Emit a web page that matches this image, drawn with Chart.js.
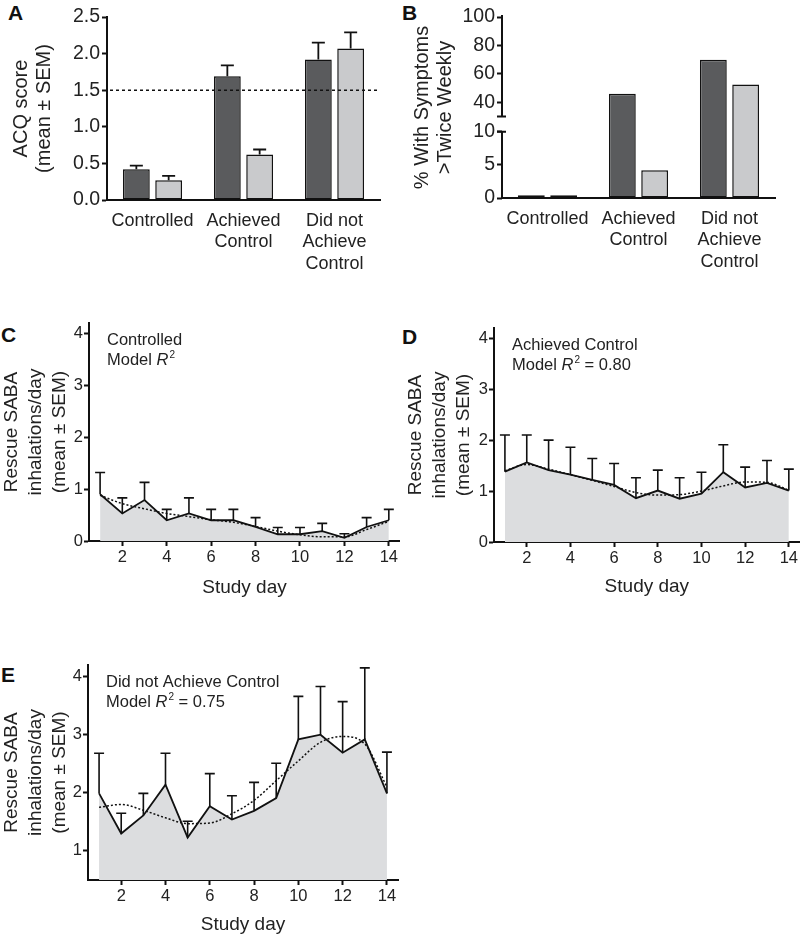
<!DOCTYPE html>
<html>
<head>
<meta charset="utf-8">
<script src="https://cdn.jsdelivr.net/npm/chart.js@4"></script>
<style>
  body { margin: 0; background: #fff; width: 800px; height: 936px; position: relative; overflow: hidden; font-family: "Liberation Sans", Arial, sans-serif; }
  .panel { position: absolute; }
  .letter { position: absolute; font-weight: bold; font-size: 21px; line-height: 1; color: #111; }
</style>
</head>
<body>
<div class="letter" style="left:8px;top:2px">A</div>
<div class="letter" style="left:402px;top:2px">B</div>
<div class="letter" style="left:1px;top:324px">C</div>
<div class="letter" style="left:402px;top:326px">D</div>
<div class="letter" style="left:1px;top:664px">E</div>

<div class="panel" style="left:0;top:0;width:400px;height:270px"><canvas id="chartA"></canvas></div>
<div class="panel" style="left:400px;top:0;width:400px;height:270px"><canvas id="chartB"></canvas></div>
<div class="panel" style="left:0;top:300px;width:400px;height:310px"><canvas id="chartC"></canvas></div>
<div class="panel" style="left:400px;top:300px;width:400px;height:310px"><canvas id="chartD"></canvas></div>
<div class="panel" style="left:0;top:630px;width:420px;height:306px"><canvas id="chartE"></canvas></div>

<script>
// ---- data ----
const groups = ['Controlled', ['Achieved', 'Control'], ['Did not', 'Achieve', 'Control']];

// panel A: ACQ score
const acqDark = [0.42, 1.69, 1.92];
const acqDarkSem = [0.05, 0.15, 0.23];
const acqLight = [0.27, 0.62, 2.07];
const acqLightSem = [0.06, 0.07, 0.22];
const acqCutoff = 1.5;
const acqTicks = [0, 0.5, 1, 1.5, 2, 2.5];

// panel B: % with symptoms > twice weekly (broken axis)
const sympDark = [0.4, 46, 70];
const sympLight = [0.4, 4.2, 52.5];
const sympTicks = [0, 5, 10, 40, 60, 80, 100];

// panels C-E: rescue SABA per study day
const days = [1, 2, 3, 4, 5, 6, 7, 8, 9, 10, 11, 12, 13, 14];
const dayTicks = [2, 4, 6, 8, 10, 12, 14];

const ctrlMean = [0.90, 0.53, 0.79, 0.40, 0.53, 0.40, 0.40, 0.27, 0.13, 0.13, 0.19, 0.06, 0.27, 0.40];
const ctrlSem  = [0.42, 0.30, 0.34, 0.21, 0.30, 0.21, 0.21, 0.18, 0.13, 0.13, 0.15, 0.08, 0.18, 0.21];
const ctrlFit  = [0.88, 0.72, 0.62, 0.53, 0.47, 0.41, 0.36, 0.28, 0.19, 0.12, 0.08, 0.08, 0.22, 0.38];

const achMean = [1.38, 1.56, 1.41, 1.32, 1.22, 1.12, 0.86, 1.01, 0.85, 0.95, 1.37, 1.07, 1.16, 1.01];
const achSem  = [0.72, 0.54, 0.59, 0.54, 0.42, 0.42, 0.40, 0.40, 0.41, 0.42, 0.54, 0.40, 0.44, 0.42];
const achFit  = [1.40, 1.52, 1.43, 1.32, 1.21, 1.09, 0.97, 0.92, 0.93, 1.00, 1.10, 1.18, 1.17, 1.02];

const notMean = [1.99, 1.30, 1.61, 2.14, 1.23, 1.77, 1.54, 1.69, 1.91, 2.92, 3.00, 2.69, 2.92, 1.99];
const notSem  = [0.69, 0.35, 0.38, 0.54, 0.28, 0.56, 0.41, 0.49, 0.60, 0.74, 0.83, 0.88, 1.23, 0.71];
const notFit  = [1.75, 1.80, 1.70, 1.57, 1.47, 1.48, 1.64, 1.87, 2.21, 2.55, 2.87, 2.97, 2.84, 2.10];

const DARK = '#5a5b5d';
const LIGHT = '#c9cacc';
const FILL = '#dcdddf';
const INK = '#111';
const FONT = '"Liberation Sans", Arial, sans-serif';

Chart.defaults.font.family = FONT;
Chart.defaults.color = '#222';
Chart.defaults.animation = false;

// ---- plugins ----
const errorBars = {
  id: 'errorBars',
  afterDatasetsDraw(chart, args, opts) {
    const ctx = chart.ctx;
    const y = chart.scales.y;
    chart.data.datasets.forEach((ds, i) => {
      if (!ds.sem) return;
      const meta = chart.getDatasetMeta(i);
      ctx.save();
      ctx.strokeStyle = INK;
      ctx.lineWidth = opts.width || 1.6;
      meta.data.forEach((el, j) => {
        const raw = ds.data[j];
        const m = typeof raw === 'object' ? raw.y : raw;
        const top = y.getPixelForValue(m + ds.sem[j]);
        ctx.beginPath();
        ctx.moveTo(el.x, el.y);
        ctx.lineTo(el.x, top);
        ctx.moveTo(el.x - opts.cap / 2, top);
        ctx.lineTo(el.x + opts.cap / 2, top);
        ctx.stroke();
      });
      ctx.restore();
    });
  }
};

const refLine = {
  id: 'refLine',
  afterDatasetsDraw(chart, args, opts) {
    if (opts.value == null) return;
    const {ctx, chartArea} = chart;
    const py = chart.scales.y.getPixelForValue(opts.value);
    ctx.save();
    ctx.strokeStyle = INK;
    ctx.lineWidth = 1.6;
    ctx.setLineDash([3, 3]);
    ctx.beginPath();
    ctx.moveTo(chartArea.left + 3, py);
    ctx.lineTo(chartArea.right, py);
    ctx.stroke();
    ctx.restore();
  }
};

const brokenAxis = {
  id: 'brokenAxis',
  afterDraw(chart, args, opts) {
    if (opts.low == null) return;
    const {ctx, chartArea} = chart;
    const y = chart.scales.y;
    const x = chartArea.left;
    const yLowTop = y.getPixelForValue(opts.low);
    const yHighBot = y.getPixelForValue(opts.high);
    ctx.save();
    ctx.strokeStyle = INK;
    ctx.lineWidth = 2;
    ctx.beginPath();
    ctx.moveTo(x, chartArea.bottom);
    ctx.lineTo(x, yLowTop);
    ctx.moveTo(x - 5, yLowTop);
    ctx.lineTo(x + 4, yLowTop);
    ctx.moveTo(x, yHighBot);
    ctx.lineTo(x, chartArea.top - 2);
    ctx.moveTo(x - 5, yHighBot);
    ctx.lineTo(x + 4, yHighBot);
    ctx.stroke();
    ctx.restore();
  }
};

const panelText = {
  id: 'panelText',
  afterDraw(chart, args, opts) {
    if (!opts.title) return;
    const {ctx, chartArea} = chart;
    const x = chartArea.left + 18;
    const y1 = chartArea.top + 17;
    const y2 = y1 + 20;
    const size = 16.5;
    ctx.save();
    ctx.fillStyle = '#222';
    ctx.textBaseline = 'middle';
    ctx.font = size + 'px ' + FONT;
    ctx.fillText(opts.title, x, y1);
    let cx = x;
    ctx.fillText('Model ', cx, y2);
    cx += ctx.measureText('Model ').width;
    ctx.font = 'italic ' + size + 'px ' + FONT;
    ctx.fillText('R', cx, y2);
    cx += ctx.measureText('R').width + 1;
    ctx.font = '10px ' + FONT;
    ctx.fillText('2', cx, y2 - 5);
    cx += ctx.measureText('2').width;
    if (opts.r2) {
      ctx.font = size + 'px ' + FONT;
      ctx.fillText(' = ' + opts.r2, cx, y2);
    }
    ctx.restore();
  }
};

// ---- helpers ----
function fixTicks(values) {
  return scale => { scale.ticks = values.map(v => ({value: v})); };
}

function barX(height) {
  return {
    afterFit: s => { s.height = height; },
    grid: {display: false, drawTicks: false},
    border: {color: INK, width: 2},
    ticks: {font: {size: 18}, padding: 10, color: '#222'}
  };
}

function barSets(dark, light, darkSem, lightSem) {
  const common = {borderColor: INK, borderWidth: 1.5, borderSkipped: false, categoryPercentage: 0.71, barPercentage: 0.83};
  return [
    Object.assign({data: dark, backgroundColor: DARK, sem: darkSem}, common),
    Object.assign({data: light, backgroundColor: LIGHT, sem: lightSem}, common)
  ];
}

// ---- panel A ----
new Chart(document.getElementById('chartA'), {
  type: 'bar',
  data: {labels: groups, datasets: barSets(acqDark, acqLight, acqDarkSem, acqLightSem)},
  options: {
    responsive: true,
    maintainAspectRatio: false,
    layout: {padding: {top: 17, right: 20, left: 0, bottom: 0}},
    plugins: {legend: {display: false}, tooltip: {enabled: false},
      errorBars: {cap: 13, width: 1.8}, refLine: {value: acqCutoff}},
    scales: {
      x: barX(70),
      y: {
        min: 0, max: 2.5,
        afterBuildTicks: fixTicks(acqTicks),
        afterFit: s => { s.width = 107; },
        ticks: {font: {size: 19.5}, padding: 2, color: '#222', callback: v => v.toFixed(1)},
        grid: {drawOnChartArea: false, tickLength: 5, tickWidth: 2, tickColor: INK},
        border: {color: INK, width: 2},
        title: {display: true, text: ['ACQ score', '(mean ± SEM)'], font: {size: 20, lineHeight: 1.15}, padding: {top: 10, bottom: 0}, color: '#222'}
      }
    }
  },
  plugins: [errorBars, refLine]
});

// ---- panel B (broken y axis: 0-10 then 30-100 compressed) ----
const tB = v => v <= 10 ? v : 12.3 + (v - 30) * 0.215;

new Chart(document.getElementById('chartB'), {
  type: 'bar',
  data: {labels: groups, datasets: barSets(sympDark.map(tB), sympLight.map(tB), null, null)},
  options: {
    responsive: true,
    maintainAspectRatio: false,
    layout: {padding: {top: 17, right: 25, left: 0, bottom: 0}},
    plugins: {legend: {display: false}, tooltip: {enabled: false},
      brokenAxis: {low: tB(10), high: tB(30)}},
    scales: {
      x: barX(72),
      y: {
        min: 0, max: tB(100),
        afterBuildTicks: fixTicks(sympTicks.map(tB)),
        afterFit: s => { s.width = 102; },
        ticks: {font: {size: 19.5}, padding: 2, color: '#222', callback: (v, i) => sympTicks[i]},
        grid: {drawOnChartArea: false, tickLength: 5, tickWidth: 2, tickColor: INK},
        border: {display: false},
        title: {display: true, text: ['% With Symptoms', '>Twice Weekly'], font: {size: 20, lineHeight: 1.15}, padding: {top: 11, bottom: 0}, color: '#222'}
      }
    }
  },
  plugins: [brokenAxis]
});

// ---- panels C, D, E ----
function dayChart(id, mean, sem, fit, opt) {
  new Chart(document.getElementById(id), {
    type: 'line',
    data: {
      datasets: [
        {
          data: days.map((d, i) => ({x: d, y: mean[i]})),
          sem: sem,
          borderColor: INK, borderWidth: 1.8, pointRadius: 0,
          fill: 'start', backgroundColor: FILL, tension: 0
        },
        {
          data: days.map((d, i) => ({x: d, y: fit[i]})),
          borderColor: INK, borderWidth: 1.5, borderDash: [2, 2], pointRadius: 0,
          fill: false, cubicInterpolationMode: 'monotone'
        }
      ]
    },
    options: {
      responsive: true,
      maintainAspectRatio: false,
      layout: {padding: {top: opt.top, right: opt.right, left: 0, bottom: 0}},
      plugins: {legend: {display: false}, tooltip: {enabled: false},
        filler: {drawTime: 'beforeDatasetsDraw'},
        errorBars: {cap: 10, width: 1.6},
        panelText: {title: opt.title, r2: opt.r2}},
      scales: {
        x: {
          type: 'linear', min: 0.5, max: 14.5,
          afterBuildTicks: fixTicks(dayTicks),
          afterFit: s => { s.height = opt.xh; },
          ticks: {font: {size: 16.5}, padding: 2, color: '#222'},
          grid: {drawOnChartArea: false, tickLength: 5, tickWidth: 2, tickColor: INK},
          border: {color: INK, width: 2},
          title: {display: true, text: 'Study day', font: {size: 19}, padding: {top: 0, bottom: opt.xtp}, color: '#222'}
        },
        y: {
          min: opt.ymin, max: 4.2,
          afterBuildTicks: fixTicks(opt.yticks),
          afterFit: s => { s.width = opt.yw; },
          ticks: {font: {size: 16.5}, padding: 1, color: '#222'},
          grid: {drawOnChartArea: false, tickLength: 5, tickWidth: 2, tickColor: INK},
          border: {color: INK, width: 2},
          title: {display: true, text: ['Rescue SABA', 'inhalations/day', '(mean ± SEM)'], font: {size: 19, lineHeight: 1.25}, padding: {top: opt.ytp, bottom: 0}, color: '#222'}
        }
      }
    },
    plugins: [errorBars, panelText]
  });
}

dayChart('chartC', ctrlMean, ctrlSem, ctrlFit,
  {title: 'Controlled', r2: null, top: 23, right: 0, xh: 69, xtp: 10.6, ymin: 0, yticks: [0, 1, 2, 3, 4], yw: 89, ytp: 0});
dayChart('chartD', achMean, achSem, achFit,
  {title: 'Achieved Control', r2: '0.80', top: 28, right: 0, xh: 68, xtp: 11.6, ymin: 0, yticks: [0, 1, 2, 3, 4], yw: 94, ytp: 4});
dayChart('chartE', notMean, notSem, notFit,
  {title: 'Did not Achieve Control', r2: '0.75', top: 35, right: 22, xh: 56, xtp: 0, ymin: 0.5, yticks: [1, 2, 3, 4], yw: 88, ytp: 0});
</script>
</body>
</html>
